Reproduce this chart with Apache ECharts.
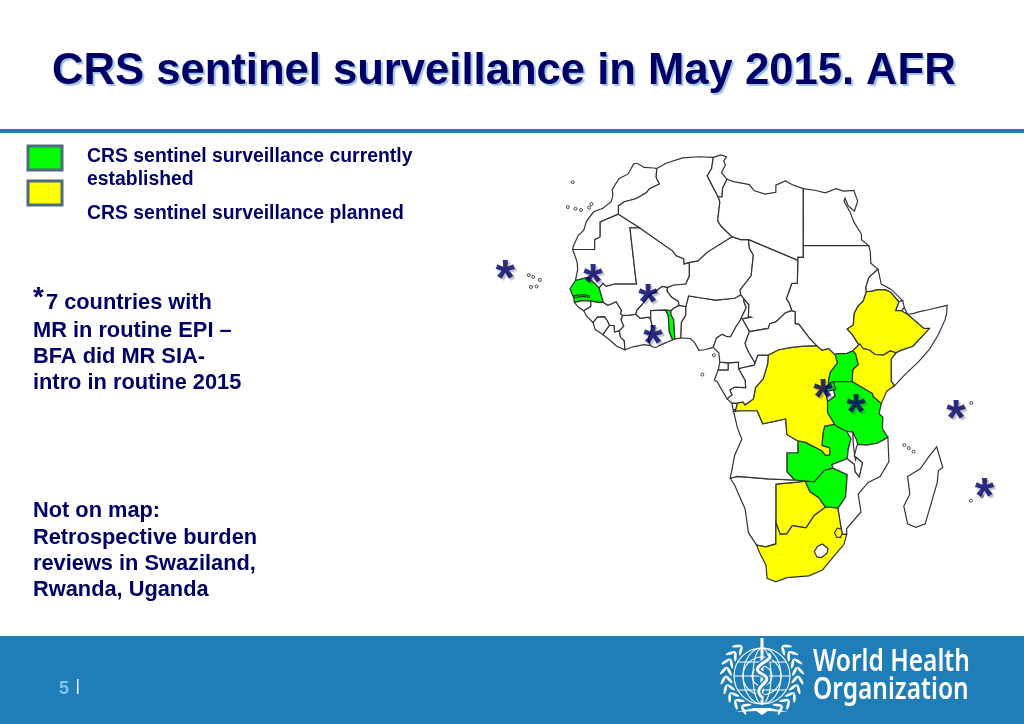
<!DOCTYPE html>
<html>
<head>
<meta charset="utf-8">
<style>html,body{margin:0;padding:0;background:#fff}#box{width:1024px;height:724px}</style>
<script src="https://cdn.jsdelivr.net/npm/echarts@6/dist/echarts.min.js"></script>
</head>
<body>
<div id="box"></div>
<script>
// outlines, as [lon,lat]
var morocco=[[-5.9,35.8],[-5.3,35.9],[-4,35.2],[-2.2,35.1],[-1.7,35],[-1.8,33.5],[-1.2,32.4],[-3,31.6],[-3.6,30.9],[-5.5,29.9],[-7.6,29.4],[-8.67,28.7],[-8.67,27.3],[-12,26],[-12,23.45],[-13,23],[-13,21.33],[-17,21.33],[-16.9,21.9],[-16,23.7],[-15,24.6],[-14.5,26.1],[-13.2,27.7],[-11.5,28.3],[-10,29.4],[-9.7,30.4],[-9.8,31.5],[-8.6,33.3],[-6.9,34.1]];
var mauritania=[[-17,21.33],[-13,21.33],[-13,23],[-12,23.45],[-12,26],[-8.67,27.3],[-4.83,25],[-6.58,25],[-5.5,16.3],[-5.35,15.5],[-9.35,15.5],[-10.9,15.1],[-11.5,15.6],[-12.2,14.8],[-13,15.6],[-14.3,16.6],[-16.5,16.1],[-16.1,18],[-16.2,19.2]];
var senegal=[[-16.5,16.1],[-14.3,16.6],[-13,15.6],[-12.2,14.8],[-11.4,12.4],[-12.4,12.4],[-13.7,12.6],[-15.2,12.7],[-16.7,12.4],[-16.8,13.1],[-17.5,14.7]];
var gambia=[[-16.8,13.55],[-15,13.7],[-13.9,13.5],[-14,13.2],[-15,13.4],[-16.8,13.2]];
var guineaBissau=[[-16.7,12.4],[-15.2,12.7],[-13.7,12.6],[-13.7,11.7],[-15,11],[-16,11.6]];
var guinea=[[-13.7,12.6],[-12.4,12.4],[-11.4,12.4],[-10.6,11.9],[-9.1,12.5],[-8.1,11],[-8.3,10.5],[-7.9,10.2],[-8.2,9.5],[-7.7,8.4],[-8.5,7.6],[-9.4,7.4],[-9.5,8.5],[-10.3,8.5],[-10.7,9.3],[-11.2,9.95],[-12.5,9.9],[-13.3,9],[-14.5,10.1],[-15,11],[-13.7,11.7]];
var sierraLeone=[[-13.3,9],[-12.5,9.9],[-11.2,9.95],[-10.7,9.3],[-10.3,8.5],[-10.7,8],[-11.5,6.95],[-12.9,7.8]];
var liberia=[[-11.5,6.95],[-10.7,8],[-10.3,8.5],[-9.5,8.5],[-9.4,7.4],[-8.5,7.6],[-8.3,6.5],[-7.6,5.9],[-7.5,4.4],[-9,5],[-10.2,6]];
var ivoryCoast=[[-7.5,4.4],[-7.6,5.9],[-8.3,6.5],[-8.5,7.6],[-7.7,8.4],[-8.2,9.5],[-7.9,10.2],[-6.9,10.2],[-5.5,10.4],[-4.7,9.7],[-3.2,9.9],[-2.8,9.6],[-2.5,8.2],[-3.2,6.3],[-2.9,5.1],[-4,5.25],[-6,4.9]];
var mali=[[-12.2,14.8],[-11.5,15.6],[-10.9,15.1],[-9.35,15.5],[-5.35,15.5],[-5.5,16.3],[-6.58,25],[-4.83,25],[1.17,21.1],[1.8,20.3],[3.2,19.8],[3.3,18.9],[4.25,19.15],[4.25,16.85],[3.6,15.5],[1.3,15.3],[0.25,14.9],[-0.7,15.1],[-2,14.2],[-3,13.6],[-4.4,12],[-5.3,11.1],[-5.5,10.4],[-6.9,10.2],[-7.9,10.2],[-8.3,10.5],[-8.1,11],[-9.1,12.5],[-10.6,11.9],[-11.4,12.4]];
var burkinaFaso=[[-5.5,10.4],[-5.3,11.1],[-4.4,12],[-3,13.6],[-2,14.2],[-0.7,15.1],[0.25,14.9],[0.2,14.3],[1,13.3],[2.2,12.6],[2.4,11.9],[1.4,11.4],[0.9,11],[-0.1,11.1],[-2.8,11],[-2.8,9.6],[-3.2,9.9],[-4.7,9.7]];
var ghana=[[-2.9,5.1],[-3.2,6.3],[-2.5,8.2],[-2.8,9.6],[-2.8,11],[-0.1,11.1],[0.4,10.2],[0.5,8.8],[0.6,7.4],[1.2,6.1],[-0.5,5.4],[-2,4.75]];
var togo=[[-0.1,11.1],[0.9,11],[0.9,10.3],[1.4,9.5],[1.6,6.2],[1.2,6.1],[0.6,7.4],[0.5,8.8],[0.4,10.2]];
var benin=[[0.9,11],[1.4,11.4],[2.4,11.9],[3.6,11.7],[3.6,10.2],[2.8,9],[2.7,6.4],[1.6,6.2],[1.4,9.5],[0.9,10.3]];
var nigeria=[[2.7,6.4],[2.8,9],[3.6,10.2],[3.6,11.7],[4.1,13.5],[6.8,13.1],[9,12.8],[12.5,13.1],[13.6,13.7],[14.1,13.1],[14.2,12.5],[14.6,11.5],[13.3,9],[12.8,8.4],[11.75,6.6],[11.1,6.6],[10.2,7],[9.2,6.4],[8.6,4.8],[7,4.4],[6,4.3],[5.2,5.6],[4.4,6.3]];
var niger=[[4.25,19.15],[5.8,19.4],[7.45,20.85],[12,23.5],[13.6,23],[15,23],[15.2,21.5],[15.9,20.4],[15.5,16.9],[13.5,14.5],[13.6,13.7],[12.5,13.1],[9,12.8],[6.8,13.1],[4.1,13.5],[3.6,11.7],[2.4,11.9],[2.2,12.6],[1,13.3],[0.2,14.3],[0.25,14.9],[1.3,15.3],[3.6,15.5],[4.25,16.85]];
var algeria=[[-1.7,35],[0,35.9],[3,36.8],[6,37],[8.6,36.9],[8.3,35],[7.5,33.8],[8.2,32.5],[9.5,30.2],[9.8,29.4],[9.4,26.2],[10,25.3],[12,23.5],[7.45,20.85],[5.8,19.4],[4.25,19.15],[3.3,18.9],[3.2,19.8],[1.8,20.3],[1.17,21.1],[-4.83,25],[-8.67,27.3],[-8.67,28.7],[-7.6,29.4],[-5.5,29.9],[-3.6,30.9],[-3,31.6],[-1.2,32.4],[-1.8,33.5]];
var tunisia=[[8.6,36.9],[10,37.3],[11,37],[10.5,36.3],[10.8,35.6],[10.1,34.3],[11.1,33.2],[10.3,31.7],[10.2,30.2],[9.5,30.2],[8.2,32.5],[7.5,33.8],[8.3,35]];
var libya=[[11.1,33.2],[12.3,32.8],[15.2,32.3],[16,31.3],[18,30.7],[20,31],[20,32.2],[21.7,32.9],[23.2,32.2],[25,31.6],[25,22],[25,20],[24,20],[24,19.5],[15,23],[13.6,23],[12,23.5],[10,25.3],[9.4,26.2],[9.8,29.4],[9.5,30.2],[10.2,30.2],[10.3,31.7]];
var egypt=[[25,31.6],[27.3,31.3],[29,30.9],[31,31.6],[32.3,31.2],[34.2,31.3],[34.9,29.5],[34.3,27.8],[33.2,28.7],[32.6,30],[32.4,29.5],[33.6,27.5],[34.2,26],[35.6,23.9],[35.6,23],[36.9,22],[31.5,22],[25,22]];
var sudan=[[25,22],[31.5,22],[36.9,22],[37.2,21],[37.3,19],[38.6,18],[37.4,17],[36.9,16.5],[36.4,15],[36.5,14.2],[35.9,12.6],[35,11.8],[34.3,10.6],[34.1,8.6],[33,7.9],[33.9,7],[35,5.4],[35.3,5.4],[34,4.2],[33,3.8],[31,3.7],[30.8,3.5],[29.6,4.6],[28.4,4.3],[27.4,5.1],[26,6.5],[24.2,8.7],[23.5,8.8],[23.5,10.8],[22.9,11],[22.4,12.3],[21.9,13],[22.9,15.6],[23.9,15.6],[24,19.5],[24,20],[25,20]];
var eritrea=[[38.6,18],[39.2,15.5],[41,14.6],[43.1,12.7],[42.4,12.5],[40.9,14.1],[40,14.5],[38.4,14.5],[37.6,14.3],[36.5,14.2],[36.4,15],[36.9,16.5],[37.4,17]];
var djibouti=[[43.1,12.7],[43.4,11.5],[42.9,11],[41.8,11],[42.4,12.5]];
var ethiopia=[[36.5,14.2],[37.6,14.3],[38.4,14.5],[40,14.5],[40.9,14.1],[42.4,12.5],[41.8,11],[42.9,11],[44,10.4],[47,8],[48,8],[45,5],[42.8,4.3],[41.9,3.9],[40.8,4.2],[39.6,3.5],[38.1,3.6],[36.9,4.4],[35.9,4.6],[35,5.4],[33.9,7],[33,7.9],[34.1,8.6],[34.3,10.6],[35,11.8],[35.9,12.6]];
var somalia=[[42.9,11],[43.4,11.5],[44,10.4],[45,10.5],[46,10.8],[48,11.2],[51.2,11.9],[51.1,10.5],[50.8,9.4],[49.5,6.8],[48,4.5],[46,2.4],[43.5,0.2],[41.6,-1.7],[41,-0.9],[41,2.8],[41.9,3.9],[42.8,4.3],[45,5],[48,8],[47,8],[44,10.4]];
var kenya=[[35.9,4.6],[36.9,4.4],[38.1,3.6],[39.6,3.5],[40.8,4.2],[41.9,3.9],[41,2.8],[41,-0.9],[41.6,-1.7],[40.2,-2.6],[39.2,-4.7],[37.7,-3.5],[37.6,-3],[33.9,-1],[34,1],[35,1.9],[34.5,3.7],[34,4.2],[35.3,5.4]];
var uganda=[[34,4.2],[34.5,3.7],[35,1.9],[34,1],[33.9,-1],[30.5,-1],[29.6,-1.4],[29.6,-0.6],[29.9,0.6],[31.2,2.2],[30.8,3.5],[31,3.7],[33,3.8]];
var rwanda=[[29.6,-1.4],[30.5,-1],[30.9,-2.3],[30.5,-2.4],[29,-2.7],[29.2,-2]];
var burundi=[[29,-2.7],[30.5,-2.4],[30.8,-3.4],[29.4,-4.4],[29.2,-3.3]];
var tanzania=[[33.9,-1],[37.6,-3],[37.7,-3.5],[39.2,-4.7],[38.8,-6.4],[39.5,-7],[39.4,-8.9],[40.4,-10.4],[38.5,-11.4],[36.5,-11.7],[34.9,-11.6],[34.6,-11],[34,-9.5],[32.9,-9.4],[31.2,-8.6],[30.7,-8.2],[29.4,-6.2],[29.4,-4.4],[30.8,-3.4],[30.5,-2.4],[30.9,-2.3],[30.5,-1]];
var zambia=[[30.7,-8.2],[31.2,-8.6],[32.9,-9.4],[33.7,-10.6],[33.2,-12.3],[33,-14],[30.2,-15],[30.4,-15.6],[28.8,-16],[27,-17.9],[25.3,-17.8],[23.4,-17.6],[22,-16.2],[22,-13],[24,-13],[24,-11],[25.3,-11.2],[27,-12],[28.4,-12.7],[29,-13.4],[29.8,-13.4],[29.8,-12.2],[28.4,-11.8],[28.6,-9.5],[28.9,-8.5]];
var malawi=[[32.9,-9.4],[34,-9.5],[34.6,-11],[34.7,-12],[34.3,-13.5],[35.8,-14.7],[35.2,-17.1],[34.4,-16.2],[34.3,-15],[33,-14],[33.2,-12.3],[33.7,-10.6]];
var lakeMalawi=[[34,-9.6],[34.7,-10.8],[34.9,-11.7],[34.8,-13.6],[34.5,-14.2],[34.3,-13],[34.1,-11.5]];
var zimbabwe=[[27,-17.9],[28.8,-16],[30.4,-15.6],[33,-16.7],[32.9,-18],[32.7,-20.5],[31.3,-22.4],[30,-22.2],[29,-22.2],[27.8,-20.6],[26.2,-19.6],[25.3,-17.8]];
var mozambique=[[40.4,-10.4],[40.6,-14.5],[39,-17],[36.8,-18],[35,-20],[35.5,-23],[32.9,-25.8],[32.9,-26.8],[32.1,-26.8],[31.9,-25.9],[31.3,-22.4],[32.7,-20.5],[32.9,-18],[33,-16.7],[30.4,-15.6],[30.2,-15],[33,-14],[34.3,-15],[34.4,-16.2],[35.2,-17.1],[35.8,-14.7],[34.3,-13.5],[34.7,-12],[34.9,-11.6],[36.5,-11.7],[38.5,-11.4]];
var botswana=[[20,-22],[20,-18.3],[23.4,-18],[25.3,-17.8],[26.2,-19.6],[27.8,-20.6],[29,-22.2],[27,-23.6],[25.5,-25.7],[23,-25.3],[22,-26.7],[20.8,-26.8],[20,-24.8]];
var namibia=[[11.7,-17.3],[13,-17],[18.5,-17.4],[23.4,-17.6],[25.3,-17.8],[23.4,-18],[20,-18.3],[20,-22],[20,-24.8],[20,-28.4],[18.2,-28.9],[16.5,-28.6],[15,-26.5],[14.4,-22.5],[12.5,-18.5]];
var southAfrica=[[16.5,-28.6],[18.2,-28.9],[20,-28.4],[20,-24.8],[20.8,-26.8],[22,-26.7],[23,-25.3],[25.5,-25.7],[27,-23.6],[29,-22.2],[30,-22.2],[31.3,-22.4],[31.9,-25.9],[32.1,-26.8],[32.9,-26.8],[32.4,-28.5],[31,-30],[28.5,-32.8],[26,-33.8],[22,-34.1],[20,-34.8],[18.4,-34.2],[18.2,-32],[17,-29.8]];
var lesotho=[[27,-29.7],[27.6,-28.8],[28.5,-28.4],[29.5,-29.2],[29.3,-30],[28.3,-30.7],[27.5,-30.6]];
var swaziland=[[31.2,-25.7],[31.9,-25.9],[32.1,-26.6],[31.8,-27.3],[31.1,-27.3],[30.7,-26.5]];
var angola=[[12.3,-6],[13.2,-5.9],[16.6,-5.9],[17.6,-8.1],[21.8,-7.3],[22,-9.9],[24,-11],[24,-13],[22,-13],[22,-16.2],[23.4,-17.6],[18.5,-17.4],[13,-17],[11.7,-17.3],[12.5,-13.4],[13.8,-10.7],[13,-8.8]];
var cabinda=[[12,-4.6],[13,-4.6],[12.7,-5.7],[12.2,-5.7]];
var drCongo=[[12.3,-6],[13.2,-5.9],[16.6,-5.9],[17.6,-8.1],[21.8,-7.3],[22,-9.9],[24,-11],[25.3,-11.2],[27,-12],[28.4,-12.7],[29,-13.4],[29.8,-13.4],[29.8,-12.2],[28.4,-11.8],[28.6,-9.5],[28.9,-8.5],[30.7,-8.2],[29.4,-6.2],[29.4,-4.4],[29.2,-3.3],[29,-2.7],[29.2,-2],[29.6,-1.4],[29.6,-0.6],[29.9,0.6],[31.2,2.2],[30.8,3.5],[29.6,4.6],[28.4,4.3],[27.4,5.1],[25,5],[22.9,4.8],[20.5,4.4],[18.6,3.5],[18.5,2],[17.7,-0.5],[16.3,-2],[15.9,-3.9],[14.4,-4.9],[14,-4.4],[13,-4.6],[12.7,-5.7]];
var congo=[[11.1,-3.9],[12,-4.6],[13,-4.6],[14,-4.4],[14.4,-4.9],[15.9,-3.9],[16.3,-2],[17.7,-0.5],[18.5,2],[18.6,3.5],[16.7,3.5],[16.2,2.2],[16,1.8],[14,1.4],[13.2,1.2],[14.4,-0.8],[14.5,-2],[12.5,-1.9],[11.6,-2.4],[12,-3.2]];
var gabon=[[9.3,-1],[8.8,-0.7],[9.5,1],[11.3,1],[11.3,2.2],[13.2,2.3],[13.2,1.2],[14.4,-0.8],[14.5,-2],[12.5,-1.9],[11.6,-2.4],[12,-3.2],[11.1,-3.9]];
var eqGuinea=[[9.5,1],[11.3,1],[11.3,2.2],[9.8,2.3]];
var cameroon=[[8.6,4.8],[9.2,6.4],[10.2,7],[11.1,6.6],[11.75,6.6],[12.8,8.4],[13.3,9],[14.6,11.5],[14.2,12.5],[14.1,13.1],[15.1,12],[15,10],[15.5,9.9],[13.9,9.6],[15.2,7.5],[14.4,5.5],[14.6,4.9],[15.1,3.9],[16.2,2.2],[16,1.8],[14,1.4],[13.2,1.2],[13.2,2.3],[11.3,2.2],[9.8,2.3],[9.6,3.9]];
var chad=[[15,23],[24,19.5],[23.9,15.6],[22.9,15.6],[21.9,13],[22.4,12.3],[22.9,11],[21.7,10.6],[20,9.1],[18.9,8.8],[18.6,8],[15.5,7.5],[15.2,7.5],[13.9,9.6],[15.5,9.9],[15,10],[15.1,12],[14.1,13.1],[13.6,13.7],[13.5,14.5],[15.5,16.9],[15.9,20.4],[15.2,21.5]];
var car=[[14.4,5.5],[15.2,7.5],[15.5,7.5],[18.6,8],[18.9,8.8],[20,9.1],[21.7,10.6],[22.9,11],[23.5,10.8],[23.5,8.8],[24.2,8.7],[26,6.5],[27.4,5.1],[25,5],[22.9,4.8],[20.5,4.4],[18.6,3.5],[16.7,3.5],[16.2,2.2],[15.1,3.9],[14.6,4.9]];
var madagascar=[[49.3,-12],[50.4,-15.5],[49.6,-16],[49.4,-18],[47.2,-25],[45.5,-25.6],[44,-25],[43.3,-22],[44.4,-20],[44,-17],[46.3,-15.7],[48,-13.5]];

var islandSpots=[[-17,32.7],[-17.9,28.5],[-16.5,28.2],[-15.5,28],[-14,28.4],[-13.6,29],[-25,17],[-24.2,16.7],[-23,16.2],[-23.6,15.1],[-24.6,15],[8.7,3.5],[6.6,0.2],[43.4,-11.7],[44.2,-12.2],[45.1,-12.8],[55.6,-4.6],[57.5,-20.3],[55.5,-21.1]];

var countryNames=['Morocco','Mauritania','Senegal','Gambia','Guinea-Bissau','Guinea','Sierra Leone','Liberia','Ivory Coast','Mali','Burkina Faso','Ghana','Togo','Benin','Nigeria','Niger','Algeria','Tunisia','Libya','Egypt','Sudan','Eritrea','Djibouti','Ethiopia','Somalia','Kenya','Uganda','Rwanda','Burundi','Tanzania','Zambia','Malawi','Lake Malawi','Zimbabwe','Mozambique','Botswana','Namibia','South Africa','Lesotho','Swaziland','Angola','Cabinda','DR Congo','Congo','Gabon','Equatorial Guinea','Cameroon','Chad','Central African Republic','Madagascar'];
var countryRings=[morocco,mauritania,senegal,gambia,guineaBissau,guinea,sierraLeone,liberia,ivoryCoast,mali,burkinaFaso,ghana,togo,benin,nigeria,niger,algeria,tunisia,libya,egypt,sudan,eritrea,djibouti,ethiopia,somalia,kenya,uganda,rwanda,burundi,tanzania,zambia,malawi,lakeMalawi,zimbabwe,mozambique,botswana,namibia,southAfrica,lesotho,swaziland,angola,cabinda,drCongo,congo,gabon,eqGuinea,cameroon,chad,car,madagascar];

var established=['Senegal','Gambia','Togo','Uganda','Rwanda','Tanzania','Zambia','Zimbabwe'];
var planned=['Ethiopia','Kenya','DR Congo','Botswana','South Africa','Swaziland'];

var starSpots=[[-29.3,18.2],[-13.3,17.5],[-3.3,14.2],[-2.4,7.2],[28.6,-1.9],[34.6,-4.4],[52.8,-5.4],[58,-18.6]];

var titleText='CRS sentinel surveillance in May 2015. AFR';
var legendLines=['CRS sentinel surveillance currently','established','CRS sentinel surveillance planned'];
var noteLines=['7 countries with','MR in routine EPI –','BFA did MR SIA-','intro in routine 2015'];
var notOnMapLines=['Not on map:','Retrospective burden','reviews in Swaziland,','Rwanda, Uganda'];

var navy='#000066', blue='#1f7db8', font='"Liberation Sans", Arial, sans-serif';

var features=countryNames.map(function(n,i){
	return {type:'Feature',properties:{name:n},geometry:{type:'Polygon',coordinates:[countryRings[i]]}};
});
echarts.registerMap('afr',{type:'FeatureCollection',features:features});

function regionStyles(){
	var out=[];
	established.forEach(function(n){out.push({name:n,itemStyle:{areaColor:'#00ff00'}})});
	planned.forEach(function(n){out.push({name:n,itemStyle:{areaColor:'#ffff00'}})});
	return out;
}

function textEl(x,y,t,size,color){
	return {type:'text',silent:true,style:{x:x,y:y,text:t,fill:color||navy,font:'bold '+size+'px '+font,textVerticalAlign:'middle'}};
}

// logo lettering is narrow, so squeeze it
function logoText(y,t){
	return {type:'text',silent:true,x:813,y:y,scaleX:0.79,style:{x:0,y:0,text:t,fill:'#fff',font:'600 31px "Noto Sans"',textVerticalAlign:'middle'}};
}

// WHO emblem, white on the footer band
function emblem(cx,cy){
	var w={stroke:'#fff',lineWidth:1.1,fill:null};
	var kids=[];
	[28,19,10].forEach(function(r){kids.push({type:'circle',shape:{cx:cx,cy:cy,r:r},style:w})});
	[19,9].forEach(function(r){kids.push({type:'ellipse',shape:{cx:cx,cy:cy,rx:r,ry:28},style:w})});
	[-14,0,14].forEach(function(d){
		var h=Math.sqrt(28*28-d*d);
		kids.push({type:'line',shape:{x1:cx-h,y1:cy+d,x2:cx+h,y2:cy+d},style:w});
	});
	[-1,1].forEach(function(side){
		for(var a=-50;a<=72;a+=14){
			var rad=a*Math.PI/180;
			[33,39].forEach(function(r,j){
				kids.push({type:'ellipse',x:cx+side*r*Math.cos(rad),y:cy+r*Math.sin(rad),rotation:-side*rad+(j?0.6:-0.6)*side,
					shape:{cx:0,cy:0,rx:1.4,ry:5},style:{fill:'#fff'}});
			});
		}
	});
	kids.push({type:'rect',shape:{x:cx-1.5,y:cy-38,width:3,height:66},style:{fill:'#fff'}});
	var under={stroke:blue,lineWidth:6,fill:null}, snake={stroke:'#fff',lineWidth:3,fill:null};
	[under,snake].forEach(function(st){
		kids.push({type:'bezierCurve',shape:{x1:cx+6,y1:cy-22,cpx1:cx+16,cpy1:cy-16,cpx2:cx-16,cpy2:cy-10,x2:cx,y2:cy-2},style:st});
		kids.push({type:'bezierCurve',shape:{x1:cx,y1:cy-2,cpx1:cx+16,cpy1:cy+6,cpx2:cx-14,cpy2:cy+10,x2:cx+1,y2:cy+22},style:st});
	});
	kids.push({type:'polygon',shape:{points:[[cx-26,cy+36],[cx-8,cy+32],[cx+8,cy+32],[cx+26,cy+36],[cx+6,cy+35],[cx,cy+39],[cx-6,cy+35]]},style:{fill:'#fff'}});
	return {type:'group',silent:true,children:kids};
}

var mychart=echarts.init(document.getElementById('box'),null,{renderer:'canvas'});

function setOpt(){
	var g=[
		{type:'rect',silent:true,shape:{x:0,y:129,width:1024,height:4},style:{fill:blue}},
		{type:'rect',silent:true,shape:{x:0,y:636,width:1024,height:88},style:{fill:blue}},
		{type:'rect',silent:true,shape:{x:28,y:146,width:34,height:24},style:{fill:'#00ff00',stroke:'#4f6b80',lineWidth:3}},
		{type:'rect',silent:true,shape:{x:28,y:181,width:34,height:24},style:{fill:'#ffff00',stroke:'#4f6b80',lineWidth:3}},
		textEl(87,157,legendLines[0],19.4),
		textEl(87,180,legendLines[1],19.4),
		textEl(87,214,legendLines[2],19.4),
		textEl(33,298,'*',28),
		textEl(46,303,noteLines[0],21.8),
		textEl(33,331,noteLines[1],21.8),
		textEl(33,357,noteLines[2],21.8),
		textEl(33,383,noteLines[3],21.8),
		textEl(33,511,notOnMapLines[0],21.8),
		textEl(33,538,notOnMapLines[1],21.8),
		textEl(33,564,notOnMapLines[2],21.8),
		textEl(33,590,notOnMapLines[3],21.8),
		textEl(59,689,'5',18,'#7fc4ee'),
		{type:'rect',silent:true,shape:{x:77,y:679,width:1.5,height:15},style:{fill:'#fff'}},
		emblem(762,676),
		logoText(662,'World Health'),
		logoText(690,'Organization')
	];
	return {
		backgroundColor:'#fff',
		animation:false,
		title:{
			text:titleText,left:47,top:45,
			textStyle:{color:navy,fontFamily:font,fontWeight:'bold',fontSize:43.6,textShadowColor:'#9cc3e6',textShadowOffsetX:2,textShadowOffsetY:2,textShadowBlur:1}
		},
		geo:{
			map:'afr',silent:true,roam:false,
			boundingCoords:[[-19.32,38.14],[53.54,-36.18]],
			aspectScale:0.9273,
			layoutCenter:[760,370],layoutSize:440,
			label:{show:false},
			itemStyle:{areaColor:'#fff',borderColor:'#333',borderWidth:1.2},
			regions:regionStyles()
		},
		series:[
			{
				type:'scatter',coordinateSystem:'geo',silent:true,z:3,
				data:islandSpots,symbol:'circle',symbolSize:3,
				itemStyle:{color:'#fff',borderColor:'#222',borderWidth:1}
			},
			{
				type:'scatter',coordinateSystem:'geo',silent:true,z:5,
				data:starSpots,symbolSize:1,itemStyle:{color:'rgba(0,0,0,0)'},
				label:{show:true,position:'inside',formatter:'*',offset:[0,13],color:navy,fontFamily:font,fontWeight:'bold',fontSize:50,
					textShadowColor:'rgba(60,60,90,0.4)',textShadowOffsetX:2,textShadowOffsetY:2,textShadowBlur:1}
			}
		],
		graphic:g
	};
}
mychart.setOption(setOpt());
</script>
</body>
</html>
